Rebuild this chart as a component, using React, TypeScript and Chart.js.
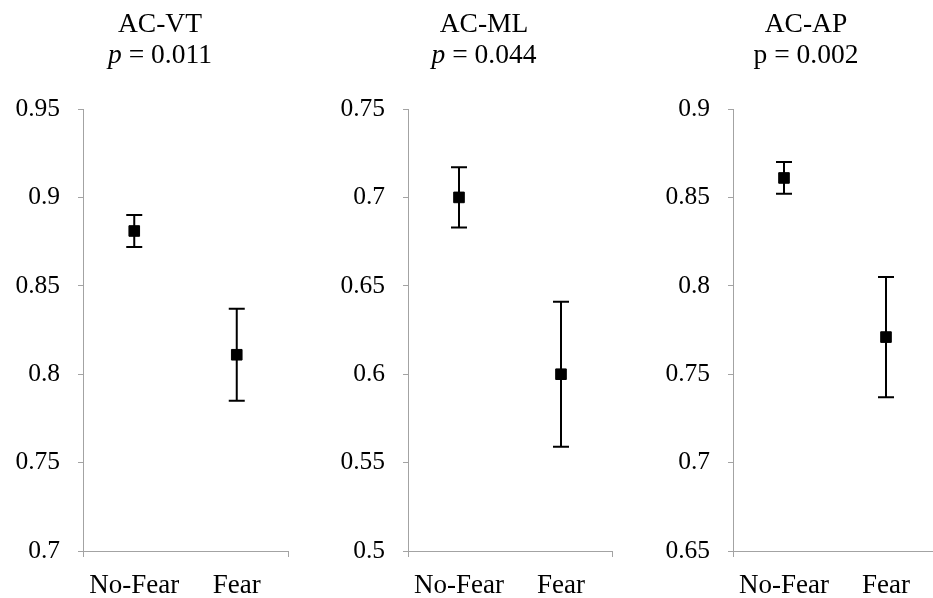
import React, { useEffect, useRef } from "react";
import { Chart, registerables } from "chart.js";

Chart.register(...registerables);

// ---- data ----
const categories = ["No-Fear", "Fear"];

const panelTitles = ["AC-VT", "AC-ML", "AC-AP"];
const pValues = ["0.011", "0.044", "0.002"];
const pItalic = [true, true, false];

const vtMeans = [0.881, 0.811];
const vtErrors = [0.009, 0.026];
const mlMeans = [0.7, 0.6];
const mlErrors = [0.017, 0.041];
const apMeans = [0.861, 0.771];
const apErrors = [0.009, 0.034];

const vtTicks = [0.7, 0.75, 0.8, 0.85, 0.9, 0.95];
const mlTicks = [0.5, 0.55, 0.6, 0.65, 0.7, 0.75];
const apTicks = [0.65, 0.7, 0.75, 0.8, 0.85, 0.9];

// ---- layout (positions/styles, not data) ----
const FONT = "'Liberation Serif', 'Times New Roman', serif";
const AXIS_COLOR = "#a3a3a3";
const H = 598;
const TITLE_SIZE = 27.5;

type PanelProps = {
  title: string;
  pValue: string;
  italicP: boolean;
  means: number[];
  errors: number[];
  ticks: number[];
  left: number;
  width: number;
  yAxisWidth: number;
  padRight: number;
};

function Panel(props: PanelProps) {
  const ref = useRef<HTMLCanvasElement | null>(null);

  useEffect(() => {
    if (!ref.current) return;
    const { title, pValue, italicP, means, errors, ticks } = props;

    const titlePlugin = {
      id: "panelTitle",
      afterDraw(chart: any) {
        const ctx = chart.ctx;
        const cx = chart.width / 2;
        ctx.save();
        ctx.fillStyle = "#000";
        ctx.textBaseline = "alphabetic";
        ctx.font = `${TITLE_SIZE}px ${FONT}`;
        ctx.textAlign = "center";
        ctx.fillText(title, cx, 32);
        // second line: p = value (p may be italic)
        const pFont = `${italicP ? "italic " : ""}${TITLE_SIZE}px ${FONT}`;
        const restFont = `${TITLE_SIZE}px ${FONT}`;
        const rest = " = " + pValue;
        ctx.font = pFont;
        const wp = ctx.measureText("p").width;
        ctx.font = restFont;
        const wr = ctx.measureText(rest).width;
        const x0 = cx - (wp + wr) / 2;
        ctx.textAlign = "left";
        ctx.font = pFont;
        ctx.fillText("p", x0, 63);
        ctx.font = restFont;
        ctx.fillText(rest, x0 + wp, 63);
        ctx.restore();
      },
    };

    const errorBarPlugin = {
      id: "errorBars",
      beforeDatasetsDraw(chart: any) {
        const ctx = chart.ctx;
        const xs = chart.scales.x;
        const ys = chart.scales.y;
        ctx.save();
        ctx.strokeStyle = "#000";
        ctx.lineWidth = 2;
        means.forEach((m, i) => {
          const x = xs.getPixelForValue(i);
          const yTop = ys.getPixelForValue(m + errors[i]);
          const yBot = ys.getPixelForValue(m - errors[i]);
          const cap = 8;
          ctx.beginPath();
          ctx.moveTo(x, yTop);
          ctx.lineTo(x, yBot);
          ctx.moveTo(x - cap, yTop);
          ctx.lineTo(x + cap, yTop);
          ctx.moveTo(x - cap, yBot);
          ctx.lineTo(x + cap, yBot);
          ctx.stroke();
        });
        ctx.restore();
      },
    };

    const chart = new Chart(ref.current, {
      type: "line",
      data: {
        labels: categories,
        datasets: [
          {
            data: means,
            showLine: false,
            pointStyle: "rect",
            pointRadius: 7.5,
            pointBackgroundColor: "#000",
            pointBorderColor: "#000",
            pointBorderWidth: 1,
          },
        ],
      },
      options: {
        responsive: false,
        animation: false,
        layout: { padding: { left: 0, right: props.padRight, top: 109, bottom: 0 } },
        plugins: {
          legend: { display: false },
          tooltip: { enabled: false },
          title: { display: false },
        },
        scales: {
          x: {
            type: "category",
            offset: true,
            afterFit: (s: any) => {
              s.height = H - 551;
            },
            grid: {
              offset: true,
              drawOnChartArea: false,
              drawTicks: true,
              tickLength: 6,
              color: AXIS_COLOR,
              tickColor: (c: any) => (c.index === 1 ? "rgba(0,0,0,0)" : AXIS_COLOR),
            },
            border: { display: true, color: AXIS_COLOR, width: 1 },
            ticks: {
              color: "#000",
              font: { family: FONT, size: 27 },
              padding: 13,
              maxRotation: 0,
            },
          },
          y: {
            type: "linear",
            min: ticks[0],
            max: ticks[ticks.length - 1],
            afterFit: (s: any) => {
              s.width = props.yAxisWidth;
            },
            afterBuildTicks: (s: any) => {
              s.ticks = ticks.map((v) => ({ value: v }));
            },
            grid: {
              drawOnChartArea: false,
              drawTicks: true,
              tickLength: 5,
              color: AXIS_COLOR,
            },
            border: { display: true, color: AXIS_COLOR, width: 1 },
            ticks: {
              color: "#000",
              font: { family: FONT, size: 25.5 },
              padding: 18,
              callback: (v: any) => String(Number(Number(v).toFixed(2))),
            },
          },
        },
      },
      plugins: [titlePlugin, errorBarPlugin],
    } as any);

    return () => chart.destroy();
  }, []);

  return (
    <canvas
      ref={ref}
      width={props.width}
      height={H}
      style={{
        position: "absolute",
        left: props.left,
        top: 0,
        width: props.width,
        height: H,
      }}
    />
  );
}

export default function App() {
  return (
    <div
      style={{
        position: "fixed",
        left: 0,
        top: 0,
        width: 933,
        height: 598,
        overflow: "hidden",
        background: "#fff",
      }}
    >
      <Panel
        title={panelTitles[0]}
        pValue={pValues[0]}
        italicP={pItalic[0]}
        means={vtMeans}
        errors={vtErrors}
        ticks={vtTicks}
        left={0}
        width={320}
        yAxisWidth={83}
        padRight={32}
      />
      <Panel
        title={panelTitles[1]}
        pValue={pValues[1]}
        italicP={pItalic[1]}
        means={mlMeans}
        errors={mlErrors}
        ticks={mlTicks}
        left={320}
        width={328}
        yAxisWidth={88}
        padRight={36}
      />
      <Panel
        title={panelTitles[2]}
        pValue={pValues[2]}
        italicP={pItalic[2]}
        means={apMeans}
        errors={apErrors}
        ticks={apTicks}
        left={648}
        width={316}
        yAxisWidth={85}
        padRight={27}
      />
    </div>
  );
}
